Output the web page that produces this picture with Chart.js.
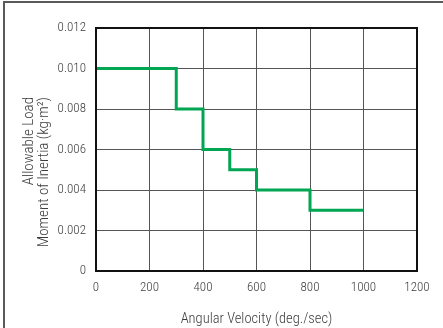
<!DOCTYPE html>
<html><head><meta charset="utf-8">
<script src="https://cdn.jsdelivr.net/npm/chart.js@4"></script>
<style>html,body{margin:0;padding:0;background:#fff;}canvas{display:block;}</style>
</head><body>
<canvas id="c" width="443" height="328"></canvas>
<script>
const velocities = [0, 300, 400, 500, 600, 800, 1000];
const loads = [0.010, 0.008, 0.006, 0.005, 0.004, 0.003, 0.003];
const xTicks = [0, 200, 400, 600, 800, 1000, 1200];
const yTicks = [0, 0.002, 0.004, 0.006, 0.008, 0.010, 0.012];
const xTitle = 'Angular Velocity (deg./sec)';
const yTitle = ['Allowable Load', 'Moment of Inertia (kg\u00b7m\u00b2)'];

const FONT = "'Roboto Condensed', 'Liberation Sans Narrow', sans-serif";
const TXT = '#3c3c3c';

const framePlugin = {
  id: 'frame',
  beforeDraw(chart) {
    const ctx = chart.ctx;
    ctx.save();
    ctx.fillStyle = '#fff';
    ctx.fillRect(0, 0, chart.width, chart.height);
    ctx.fillStyle = '#5a5a5a';
    ctx.fillRect(3, 1, chart.width - 3, 2);
    ctx.fillRect(3, 1, 2, chart.height - 1);
    ctx.restore();
  },
  afterDatasetsDraw(chart) {
    const a = chart.chartArea, ctx = chart.ctx;
    ctx.save();
    ctx.strokeStyle = '#111';
    ctx.lineWidth = 2;
    ctx.strokeRect(a.left, a.top, a.right - a.left, a.bottom - a.top);
    ctx.restore();
  },
  afterDraw(chart) {
    const ctx = chart.ctx;
    const top = chart.chartArea.top + 69;
    ctx.save();
    ctx.fillStyle = TXT;
    ctx.font = "300 15px " + FONT;
    ctx.textAlign = 'right';
    ctx.textBaseline = 'alphabetic';
    const baselines = [33, 48];
    yTitle.forEach((t, i) => {
      ctx.save();
      ctx.translate(baselines[i], top);
      ctx.rotate(-Math.PI / 2);
      ctx.fillText(t, 0, 0);
      ctx.restore();
    });
    ctx.restore();
  }
};

new Chart(document.getElementById('c'), {
  type: 'line',
  data: {
    datasets: [{
      data: velocities.map((v, i) => ({x: v, y: loads[i]})),
      stepped: 'before',
      borderColor: '#00a651',
      borderWidth: 3,
      pointRadius: 0,
      fill: false,
      borderCapStyle: 'butt'
    }]
  },
  options: {
    responsive: false,
    animation: false,
    devicePixelRatio: 1,
    layout: {padding: {top: 28, right: 26, left: 0, bottom: 0}},
    plugins: {legend: {display: false}, tooltip: {enabled: false}},
    scales: {
      x: {
        type: 'linear', min: 0, max: 1200,
        afterBuildTicks(s) { s.ticks = xTicks.map(v => ({value: v})); },
        afterFit(s) { s.height = 328 - 271; },
        grid: {color: '#555', lineWidth: 1, drawTicks: false},
        border: {display: false},
        ticks: {color: TXT, font: {family: FONT, size: 13, weight: 300}, padding: 9, maxRotation: 0,
                callback: v => String(v)},
        title: {display: true, text: xTitle, color: TXT, font: {family: FONT, size: 14.5, weight: 300, lineHeight: 1.2}, padding: {top: 0, bottom: 0}}
      },
      y: {
        type: 'linear', min: 0, max: 0.012,
        afterBuildTicks(s) { s.ticks = yTicks.map(v => ({value: v})); },
        afterFit(s) { s.width = 96; },
        grid: {color: '#555', lineWidth: 1, drawTicks: false},
        border: {display: false},
        ticks: {color: TXT, font: {family: FONT, size: 13, weight: 300}, padding: 10,
                callback: v => v === 0 ? '0' : v.toFixed(3)},
        title: {display: false}
      }
    }
  },
  plugins: [framePlugin]
});
</script>
</body></html>
